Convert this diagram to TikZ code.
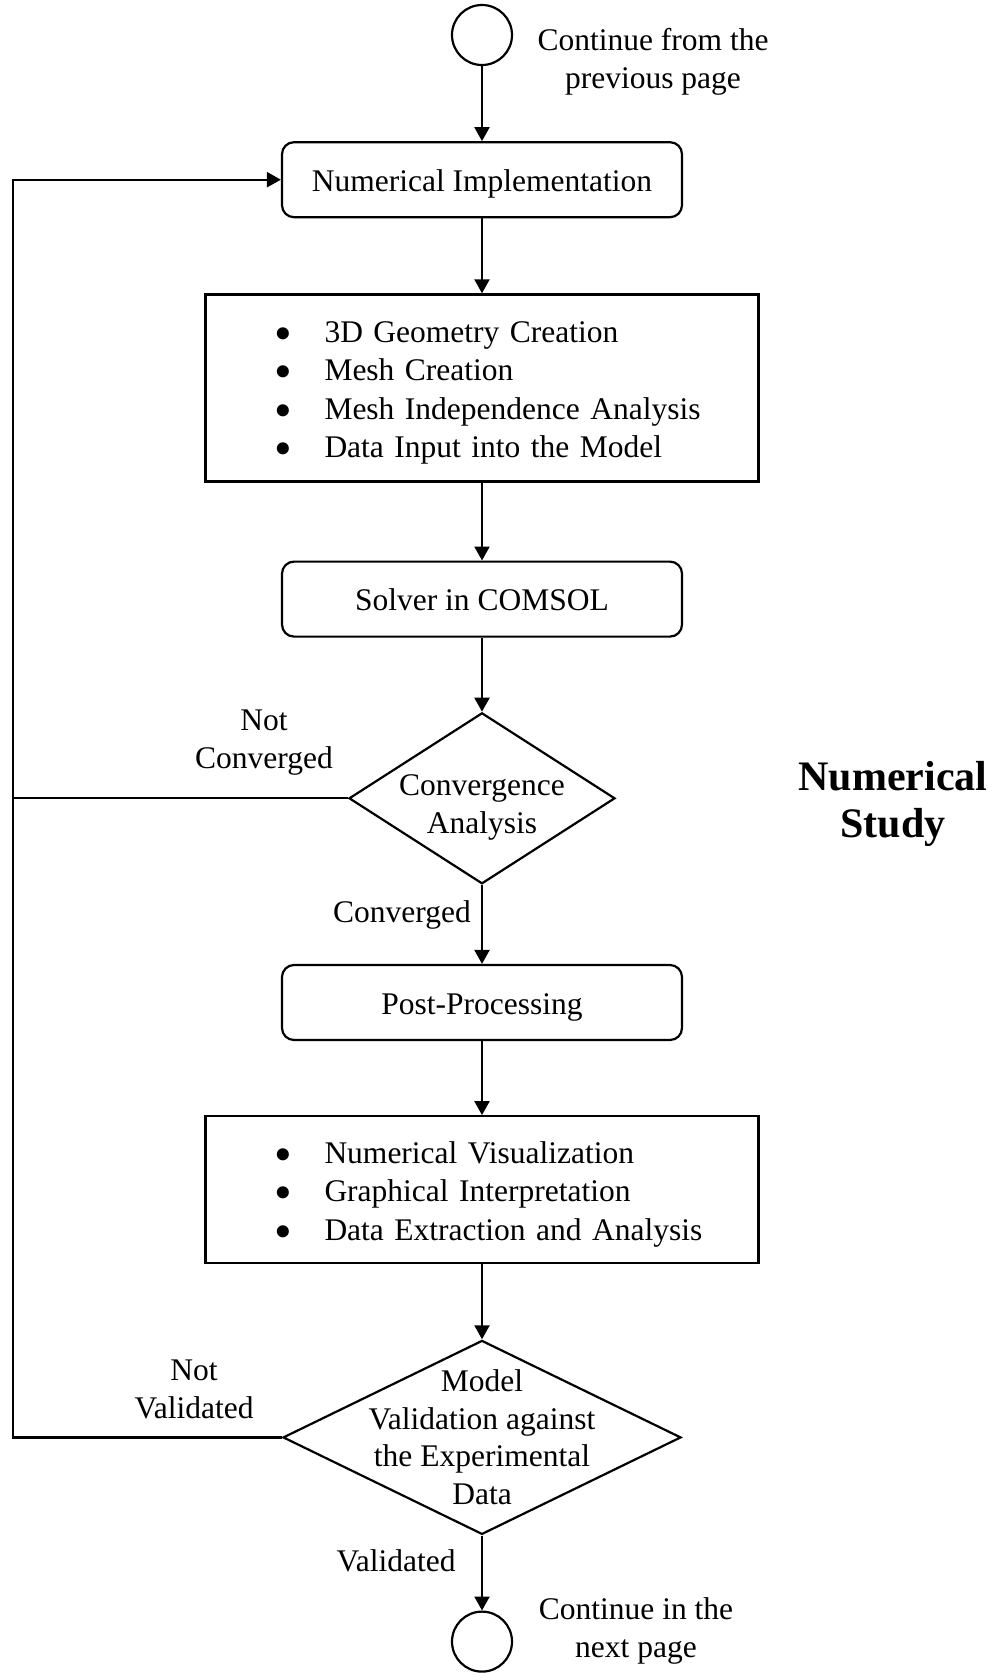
\documentclass[tikz,border=0pt]{standalone}
\usepackage{fontspec}
\setmainfont{Liberation Serif}
\usepackage{graphicx}
\usetikzlibrary{arrows.meta,positioning,shapes.geometric}
\tikzset{
    %Define standard arrow tip
    >={Triangle[length=14pt,width=15pt]},
    %Define style for rounded boxes
    steg/.style={
           rectangle,
           rounded corners=12pt,
           draw=black,
           line width=2.2pt,
           minimum width=400pt,
           minimum height=75pt,
           text height=23pt,
           text depth=0pt,
           inner sep=0pt},
    % Define style for boxes with bullet lists
    liste/.style={
           rectangle,
           draw=black,
           line width=2.2pt,
           minimum width=553pt,
           text width=407pt,
           align=left,
           text height=32pt,
           inner sep=0pt,
           font=\fontsize{31.5pt}{38.5pt}\selectfont},
    % Define style for decisions
    valg/.style={
           diamond,
           draw=black,
           line width=2.2pt,
           inner sep=0pt},
    % Define style for page connectors
    sirkel/.style={
           circle,
           draw=black,
           line width=2.2pt,
           minimum size=60pt,
           inner sep=0pt},
    % Define style for free text
    tekst/.style={
           align=center,
           inner sep=0pt},
    % Define arrow style
    pil/.style={
           ->,
           line width=2.2pt}
}
\newcommand{\blt}[1]{\mbox{\makebox[46pt][l]{\hspace*{-4pt}\raisebox{-8pt}{\scalebox{1.6}{\textbullet}}}#1}}

\begin{document}
\begin{tikzpicture}[x=1pt, y=-1pt, font=\fontsize{31.5pt}{37.5pt}\selectfont]
  \useasboundingbox (0,0) rectangle (995,1673);
  \node[sirkel] (start) at (482,35) {};
  \node[steg,below=75pt of start] (impl) {Numerical Implementation};
  \node[liste,minimum height=187pt,below=75pt of impl] (oppsett)
    {\blt{3D Geometry Creation}\\ \blt{Mesh Creation}\\
     \blt{Mesh Independence Analysis}\\ \blt{Data Input into the Model}};
  \node[steg,below=78pt of oppsett] (solver) {Solver in COMSOL};
  \node[valg,minimum width=266pt,minimum height=171pt,below=74pt of solver,
    label={[tekst,yshift=-9pt]center:Convergence\\Analysis}] (konv) {};
  \node[steg,below=79pt of konv] (post) {Post-Processing};
  \node[liste,minimum height=147pt,below=74pt of post] (resultat)
    {\blt{Numerical Visualization}\\ \blt{Graphical Interpretation}\\
     \blt{Data Extraction and Analysis}};
  \node[valg,minimum width=398pt,minimum height=194pt,below=75pt of resultat,
    label={[tekst]center:Model\\Validation against\\the Experimental\\Data}] (valid) {};
  \node[sirkel,below=75pt of valid] (slutt) {};
  \coordinate (retur) at (13,0);

  % side texts
  \node[tekst] (fra) at (653,62) {Continue from the\\previous page};
  \node[tekst] (ikkekonv) at (264,742.5) {Not\\Converged};
  \node[tekst] (jakonv) at (402,914.5) {Converged};
  \node[tekst,font=\fontsize{42pt}{47pt}\selectfont\bfseries] (studie) at (893,803.5) {Numerical\\Study};
  \node[tekst] (ikkevalid) at (194,1389.5) {Not\\Validated};
  \node[tekst] (javalid) at (396,1561) {Validated};
  \node[tekst] (til) at (636,1631) {Continue in the\\next page};

  % main flow
  \draw[pil] (start) -- (impl);
  \draw[pil] (impl) -- (oppsett);
  \draw[pil] (oppsett) -- (solver);
  \draw[pil] (solver) -- (konv);
  \draw[pil] (konv) -- (post);
  \draw[pil] (post) -- (resultat);
  \draw[pil] (resultat) -- (valid);
  \draw[pil] (valid) -- (slutt);

  % loop back
  \draw[pil] (valid.west) -| (retur |- impl.west) -- (impl.west);
  \draw[line width=2.2pt] (konv.west) -- (konv.west -| retur);
\end{tikzpicture}
\end{document}
